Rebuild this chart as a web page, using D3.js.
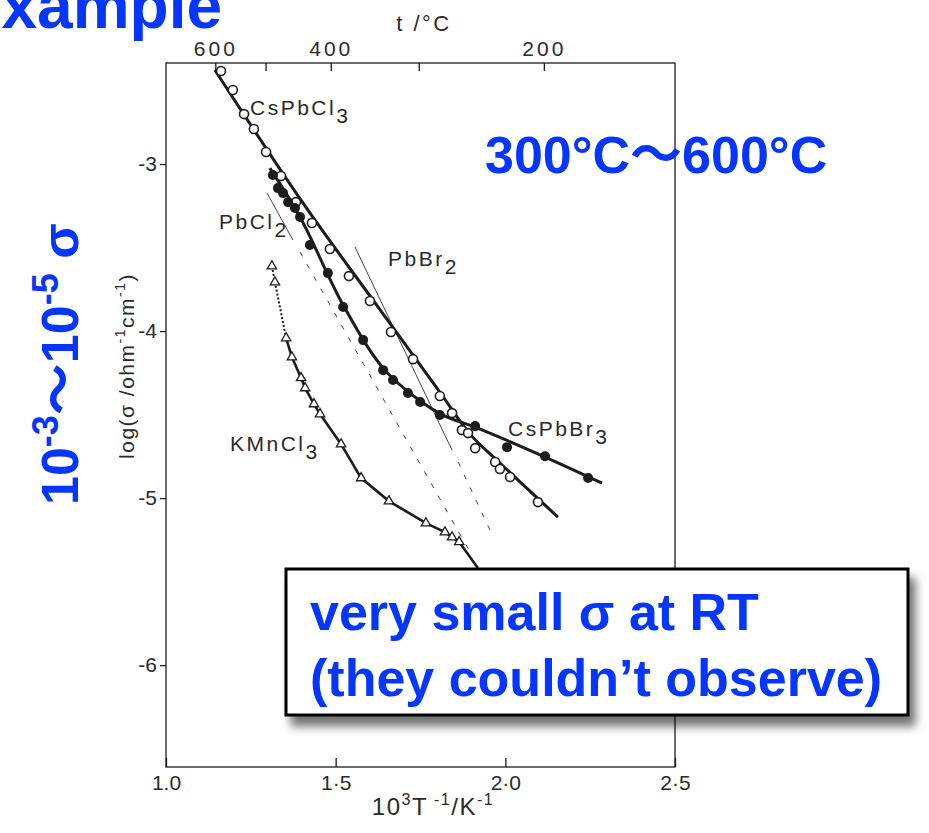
<!DOCTYPE html>
<html>
<head>
<meta charset="utf-8">
<script src="https://cdn.jsdelivr.net/npm/d3@7"></script>
<style>
body { margin: 0; background: #fff; }
</style>
</head>
<body>
<script>
// values: [10^3/T (K^-1), log(sigma / ohm^-1 cm^-1)]
var csPbCl3 = [[1.162, -2.443], [1.197, -2.557], [1.230, -2.701], [1.259, -2.790], [1.295, -2.928],
    [1.339, -3.072], [1.383, -3.228], [1.430, -3.353], [1.483, -3.509], [1.539, -3.671],
    [1.601, -3.820], [1.663, -4.006], [1.728, -4.168], [1.807, -4.389], [1.843, -4.491],
    [1.872, -4.593], [1.890, -4.611], [1.911, -4.701], [1.970, -4.784], [1.984, -4.826],
    [2.014, -4.874], [2.096, -5.024]];
var csPbCl3Fit = [[1.144, -2.437], [1.404, -3.234], [1.625, -3.856], [1.807, -4.365],
    [1.896, -4.617], [1.984, -4.790], [2.155, -5.114]];

var csPbBr3 = [[1.315, -3.066], [1.330, -3.144], [1.345, -3.174], [1.360, -3.228], [1.380, -3.263],
    [1.395, -3.317], [1.424, -3.485], [1.477, -3.653], [1.522, -3.856], [1.581, -4.054],
    [1.640, -4.234], [1.669, -4.293], [1.713, -4.371], [1.749, -4.425], [1.807, -4.503],
    [1.911, -4.569], [2.005, -4.695], [2.117, -4.749], [2.244, -4.880]];
var csPbBr3Fit = [[1.306, -3.024], [1.395, -3.317], [1.522, -3.844], [1.640, -4.222], [1.749, -4.419],
    [1.822, -4.509], [1.911, -4.575], [2.117, -4.754], [2.285, -4.910]];

var kMnCl3 = [[1.312, -3.611], [1.321, -3.707], [1.354, -4.042], [1.371, -4.156], [1.398, -4.281],
    [1.410, -4.341], [1.436, -4.437], [1.454, -4.497], [1.516, -4.677], [1.575, -4.880],
    [1.657, -5.018], [1.766, -5.150], [1.822, -5.204], [1.843, -5.234], [1.864, -5.263]];
var kMnCl3End = [1.919, -5.419];

var pbCl2Solid = [[1.298, -3.174], [1.374, -3.455]];
var pbCl2Dashed = [[1.395, -3.527], [1.896, -5.323]];
var pbBr2Solid = [[1.557, -3.497], [1.843, -4.713]];
var pbBr2Dashed = [[1.861, -4.784], [1.955, -5.192]];

var xTicks = [1.0, 1.5, 2.0, 2.5];
var xTickLabels = ["1.0", "1·5", "2·0", "2·5"];
var yTicks = [-3, -4, -5, -6];
var tTicks = [600, 500, 400, 300, 200];
var tTickLabels = ["600", "", "400", "", "200"];

var width = 929, height = 833;
var ink = "#1c1c1c";
var blue = "#0536ff";
var chartFont = "'Liberation Sans', Arial, sans-serif";
var blueFont = "'Liberation Sans', Arial, 'Noto Sans CJK JP', sans-serif";

var svg = d3.select("body").append("svg")
    .attr("width", width)
    .attr("height", height);

var defs = svg.append("defs");
var shadow = defs.append("filter").attr("id", "shadow")
    .attr("x", "-10%").attr("y", "-10%").attr("width", "130%").attr("height", "140%");
shadow.append("feDropShadow")
    .attr("dx", 6).attr("dy", 10).attr("stdDeviation", 5)
    .attr("flood-color", "#000").attr("flood-opacity", 0.55);

var x = d3.scaleLinear().domain([1.0, 2.5]).range([166, 675]);
var y = d3.scaleLinear().domain([-6.61, -2.395]).range([767, 63]);

// frame
svg.append("rect")
    .attr("x", x(1.0)).attr("y", y(-2.395))
    .attr("width", x(2.5) - x(1.0)).attr("height", y(-6.61) - y(-2.395))
    .attr("fill", "none").attr("stroke", ink).attr("stroke-width", 1.3);

// bottom axis, ticks point inward
var xAxis = svg.append("g")
    .attr("transform", "translate(0," + y(-6.61) + ")")
    .call(d3.axisBottom(x).tickValues(xTicks).tickSizeInner(-9).tickSizeOuter(0).tickPadding(8)
        .tickFormat(function (d, i) { return xTickLabels[i]; }));

// left axis
var yAxis = svg.append("g")
    .attr("transform", "translate(" + x(1.0) + ",0)")
    .call(d3.axisLeft(y).tickValues(yTicks).tickSizeInner(6).tickSizeOuter(0).tickPadding(3)
        .tickFormat(function (d) { return String(d); }));

// top axis in degrees Celsius
var tAxis = svg.append("g")
    .attr("transform", "translate(0," + y(-2.395) + ")")
    .call(d3.axisTop(x)
        .tickValues(tTicks.map(function (t) { return 1000 / (t + 273.15); }))
        .tickSizeInner(-8).tickSizeOuter(0).tickPadding(7)
        .tickFormat(function (d, i) { return tTickLabels[i]; }));

[xAxis, yAxis, tAxis].forEach(function (g) {
    g.select(".domain").remove();
    g.selectAll("line").attr("stroke", ink).attr("stroke-width", 1.3);
    g.selectAll("text").attr("fill", "#2a2a2a").attr("font-family", chartFont).attr("font-size", 21);
});
tAxis.selectAll("text").attr("letter-spacing", 3);

var line = d3.line()
    .x(function (d) { return x(d[0]); })
    .y(function (d) { return y(d[1]); });

// thin reference lines for PbCl2 and PbBr2
[[pbCl2Solid, null], [pbCl2Dashed, "5,9"], [pbBr2Solid, null], [pbBr2Dashed, "5,9"]].forEach(function (p) {
    svg.append("path")
        .attr("d", line(p[0]))
        .attr("fill", "none")
        .attr("stroke", "#444")
        .attr("stroke-width", 1)
        .attr("stroke-dasharray", p[1]);
});

// fitted curves
svg.append("path").attr("d", line.curve(d3.curveCatmullRom)(csPbCl3Fit))
    .attr("fill", "none").attr("stroke", ink).attr("stroke-width", 3);
svg.append("path").attr("d", line.curve(d3.curveCatmullRom)(csPbBr3Fit))
    .attr("fill", "none").attr("stroke", ink).attr("stroke-width", 3);
line.curve(d3.curveLinear);
svg.append("path").attr("d", line(kMnCl3.slice(0, 3)))
    .attr("fill", "none").attr("stroke", ink).attr("stroke-width", 2).attr("stroke-dasharray", "2,2");
svg.append("path").attr("d", line(kMnCl3.slice(2).concat([kMnCl3End])))
    .attr("fill", "none").attr("stroke", ink).attr("stroke-width", 2.6);

// open circles CsPbCl3
svg.selectAll("circle.open")
    .data(csPbCl3)
    .enter()
    .append("circle")
    .attr("class", "open")
    .attr("cx", function (d) { return x(d[0]); })
    .attr("cy", function (d) { return y(d[1]); })
    .attr("r", 4.5)
    .attr("fill", "#fff")
    .attr("stroke", ink)
    .attr("stroke-width", 1.6);

// filled circles CsPbBr3
svg.selectAll("circle.filled")
    .data(csPbBr3)
    .enter()
    .append("circle")
    .attr("class", "filled")
    .attr("cx", function (d) { return x(d[0]); })
    .attr("cy", function (d) { return y(d[1]); })
    .attr("r", 5)
    .attr("fill", ink);

// triangles KMnCl3
svg.selectAll("path.tri")
    .data(kMnCl3)
    .enter()
    .append("path")
    .attr("class", "tri")
    .attr("d", d3.symbol(d3.symbolTriangle).size(38))
    .attr("transform", function (d) { return "translate(" + x(d[0]) + "," + y(d[1]) + ")"; })
    .attr("fill", "#fff")
    .attr("stroke", ink)
    .attr("stroke-width", 1.3);

// compound labels with subscripts
var labels = [
    { base: "CsPbCl", sub: "3", x: 250, y: 115 },
    { base: "PbCl", sub: "2", x: 219, y: 229 },
    { base: "PbBr", sub: "2", x: 388, y: 266 },
    { base: "KMnCl", sub: "3", x: 230, y: 451 },
    { base: "CsPbBr", sub: "3", x: 508, y: 436 }
];
labels.forEach(function (l) {
    var t = svg.append("text")
        .attr("x", l.x).attr("y", l.y)
        .attr("font-family", chartFont)
        .attr("font-size", 21)
        .attr("letter-spacing", 2.5)
        .attr("fill", "#2a2a2a");
    t.append("tspan").text(l.base);
    t.append("tspan").attr("dy", 8).text(l.sub);
});

// axis titles
svg.append("text")
    .attr("x", 424).attr("y", 31)
    .attr("text-anchor", "middle")
    .attr("font-family", chartFont).attr("font-size", 22).attr("letter-spacing", 2.5)
    .attr("fill", "#2a2a2a")
    .text("t /°C");

var xt = svg.append("text")
    .attr("x", 433).attr("y", 815)
    .attr("text-anchor", "middle")
    .attr("font-family", chartFont).attr("font-size", 24).attr("letter-spacing", 1.5)
    .attr("fill", "#2a2a2a");
xt.append("tspan").text("10");
xt.append("tspan").attr("dy", -10).attr("font-size", 16).text("3");
xt.append("tspan").attr("dy", 10).text("T");
xt.append("tspan").attr("dy", -10).attr("font-size", 16).text(" -1");
xt.append("tspan").attr("dy", 10).text("/K");
xt.append("tspan").attr("dy", -10).attr("font-size", 16).text("-1");

var yt = svg.append("text")
    .attr("transform", "translate(134,366) rotate(-90)")
    .attr("text-anchor", "middle")
    .attr("font-family", chartFont).attr("font-size", 21).attr("letter-spacing", 1.5)
    .attr("fill", "#2a2a2a");
yt.append("tspan").text("log(σ /ohm");
yt.append("tspan").attr("dy", -9).attr("font-size", 14).text("-1");
yt.append("tspan").attr("dy", 9).text("cm");
yt.append("tspan").attr("dy", -9).attr("font-size", 14).text("-1");
yt.append("tspan").attr("dy", 9).text(")");

// blue slide annotations
svg.append("text")
    .attr("x", 222).attr("y", 28)
    .attr("text-anchor", "end")
    .attr("font-family", blueFont).attr("font-weight", "bold")
    .attr("font-size", 64).attr("fill", blue)
    .text("Example");

svg.append("text")
    .attr("x", 485).attr("y", 173)
    .attr("font-family", blueFont).attr("font-weight", "bold")
    .attr("font-size", 52).attr("fill", blue)
    .text("300°C〜600°C");

var rot = svg.append("text")
    .attr("transform", "translate(78,505) rotate(-90)")
    .attr("font-family", blueFont).attr("font-weight", "bold")
    .attr("font-size", 52).attr("fill", blue);
rot.append("tspan").text("10");
rot.append("tspan").attr("dy", -20).attr("font-size", 36).text("-3");
rot.append("tspan").attr("dy", 20).text("〜10");
rot.append("tspan").attr("dy", -20).attr("font-size", 36).text("-5");
rot.append("tspan").attr("dy", 20).text(" σ");

svg.append("rect")
    .attr("x", 286).attr("y", 569)
    .attr("width", 622).attr("height", 146)
    .attr("fill", "#fff")
    .attr("stroke", "#000")
    .attr("stroke-width", 3)
    .attr("filter", "url(#shadow)");

var boxLines = ["very small σ at RT", "(they couldn’t observe)"];
svg.selectAll("text.box")
    .data(boxLines)
    .enter()
    .append("text")
    .attr("class", "box")
    .attr("x", 310)
    .attr("y", function (d, i) { return 630 + i * 66; })
    .attr("font-family", blueFont).attr("font-weight", "bold")
    .attr("font-size", 52).attr("fill", blue)
    .text(function (d) { return d; });
</script>
</body>
</html>
